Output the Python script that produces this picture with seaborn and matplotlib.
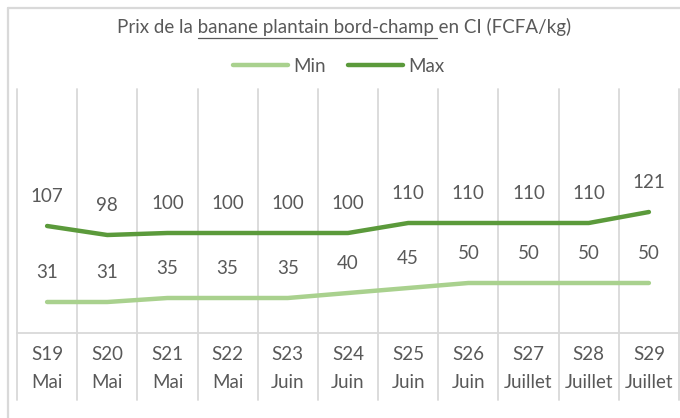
import numpy as np
import pandas as pd
import matplotlib
matplotlib.use("Agg")
import matplotlib.pyplot as plt
import seaborn as sns
from matplotlib.lines import Line2D

weeks = ["S19", "S20", "S21", "S22", "S23", "S24", "S25", "S26", "S27", "S28", "S29"]
months = ["Mai", "Mai", "Mai", "Mai", "Juin", "Juin", "Juin", "Juin", "Juillet", "Juillet", "Juillet"]
min_vals = [31, 31, 35, 35, 35, 40, 45, 50, 50, 50, 50]
max_vals = [107, 98, 100, 100, 100, 100, 110, 110, 110, 110, 121]
series_names = ["Min", "Max"]
title_pre = "Prix de la "
title_ul = "banane plantain bord-champ "
title_post = "en CI (FCFA/kg)"

sns.set_theme(style="white")
plt.rcParams['font.family'] = ['Lato', 'DejaVu Sans']

TXT = "#595959"
GRID = "#d9d9d9"
colors = {"Min": "#a9d18e", "Max": "#5b9a3b"}

df = pd.DataFrame({
    "x": list(range(len(weeks))) * 2,
    "val": min_vals + max_vals,
    "serie": ["Min"] * len(weeks) + ["Max"] * len(weeks),
})

W, H = 680, 418
fig = plt.figure(figsize=(W / 100, H / 100), dpi=100)
ax = fig.add_axes([17 / W, (H - 333) / H, 662 / W, 244 / H])

sns.lineplot(data=df, x="x", y="val", hue="serie", palette=colors,
             hue_order=series_names, linewidth=3.2, ax=ax, legend=False,
             solid_capstyle="round")

ax.set_xlim(-0.5, 10.5)
ax.set_ylim(0, 244)
ax.set_yticks([])
ax.set_xlabel("")
ax.set_ylabel("")
for s in ["top", "left", "right"]:
    ax.spines[s].set_visible(False)
ax.spines["bottom"].set_color(GRID)
ax.spines["bottom"].set_linewidth(1.3)

ax.set_xticks(range(len(weeks)))
ax.set_xticklabels([f"{w}\n{m}" for w, m in zip(weeks, months)],
                   color=TXT, fontsize=13.5, linespacing=1.85)
ax.tick_params(axis="x", length=0, pad=9)

# vertical category gridlines extending into label area
ext = (400 - 333) / 244
for b in np.arange(-0.5, 11, 1.0):
    ax.plot([b, b], [-ext, 1], transform=ax.get_xaxis_transform(),
            color=GRID, lw=1.3, clip_on=False, zorder=0)

# data labels
for vals in (min_vals, max_vals):
    for i, v in enumerate(vals):
        ax.annotate(str(v), (i, v), xytext=(0, 21), textcoords="offset points",
                    ha="center", va="center", color=TXT, fontsize=13.5)

# legend
handles = [Line2D([], [], color=colors[n], lw=3.2) for n in series_names]
fig.legend(handles, series_names, loc="center", bbox_to_anchor=(339 / W, 1 - 66 / H),
           ncol=2, frameon=False, fontsize=13.5, labelcolor=TXT,
           handlelength=2.9, handletextpad=0.3, columnspacing=1.2)

# title with underlined portion
ty = 1 - 27 / H
t = fig.text(344 / W, ty, title_pre + title_ul + title_post, ha="center", va="center",
             color=TXT, fontsize=13.5)
fig.canvas.draw()
r = fig.canvas.get_renderer()
bb = t.get_window_extent(r)
tmp1 = fig.text(0, 0, title_pre, fontsize=13.5)
tmp2 = fig.text(0, 0, title_pre + title_ul.rstrip(), fontsize=13.5)
w1 = tmp1.get_window_extent(r).width
w2 = tmp2.get_window_extent(r).width
tmp1.remove(); tmp2.remove()
x0 = (bb.x0 + w1) / W
x1 = (bb.x0 + w2 + 3) / W
uy = 1 - 38 / H
fig.add_artist(Line2D([x0, x1], [uy, uy], transform=fig.transFigure, color=TXT, lw=0.9))

# chart border (cropped)
fig.add_artist(Line2D([8 / W, 8 / W], [0, 1 - 8 / H], transform=fig.transFigure, color=GRID, lw=1.6))
fig.add_artist(Line2D([8 / W, 1], [1 - 8 / H, 1 - 8 / H], transform=fig.transFigure, color=GRID, lw=1.6))

fig.savefig("out.png", dpi=100)
